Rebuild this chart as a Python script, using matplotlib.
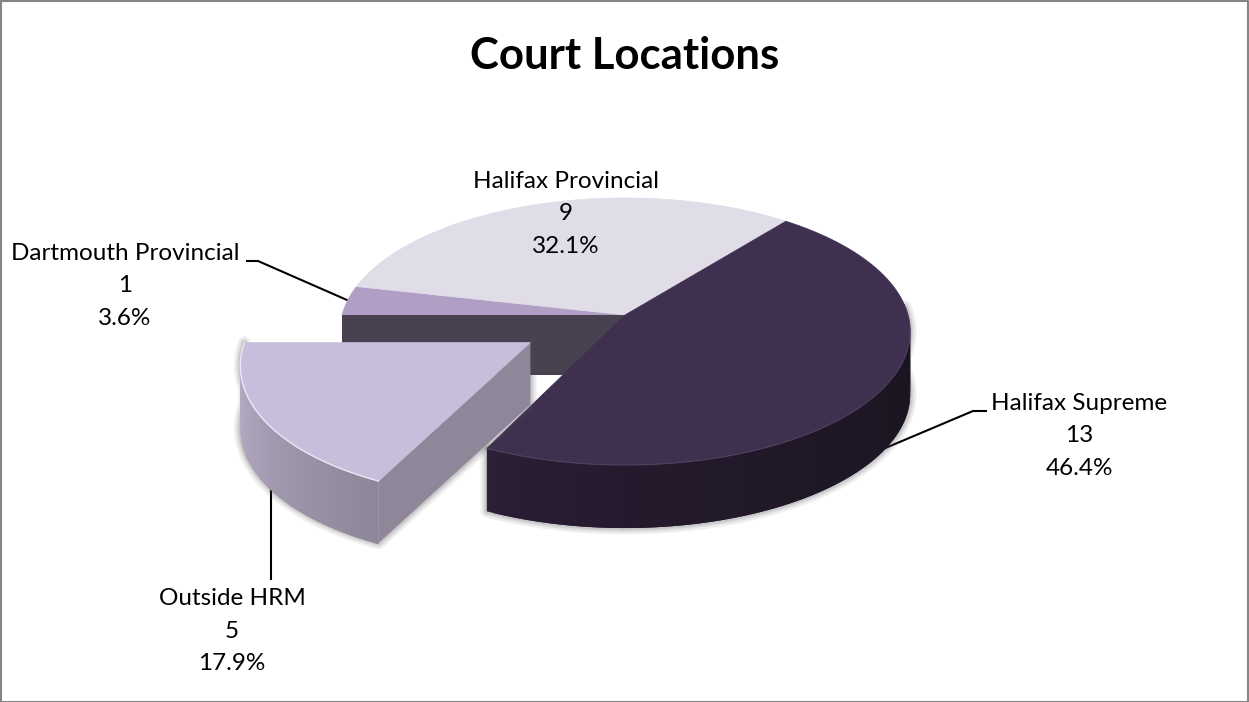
import numpy as np
import matplotlib
matplotlib.use("Agg")
import matplotlib.pyplot as plt
from matplotlib.colors import to_rgb

plt.rcParams['font.family'] = ['Lato', 'DejaVu Sans']

# chart data
names = ["Halifax Supreme", "Outside HRM", "Dartmouth Provincial", "Halifax Provincial"]
values = [13, 5, 1, 9]
title = "Court Locations"

# slice colours
top_colors = ["#403050", "#c8bedb", "#b09ec5", "#e0dce8"]

# pie geometry, in pixels of the 1249x702 picture
cx, cy = 625, 315
rx, ry = 283, 131.5
persp = 0.1236
depth = 63
start = 38.57
explode = 0.385
explode_r = 0.985

# label centre and leader line for every slice
label_pos = [(1079, 436), (232, 631), (125, 286), (566, 214)]
leaders = [[(986, 411), (973, 411), (876, 452)],
           [(271, 483), (271, 579)],
           [(247, 261), (258, 261), (347, 300)],
           None]


def project(theta, r, shift=0.0, mid=0.0, down=0.0):
    # theta runs clockwise from the back of the pie
    t = np.radians(theta)
    m = np.radians(mid)
    x = r * np.sin(t) + shift * np.sin(m)
    y = r * np.cos(t) + shift * np.cos(m)
    w = 1 + persp * y
    return cx + rx * x / w, cy - ry * y / w + down


def mix(a, b, f):
    a, b = np.array(to_rgb(a)), np.array(to_rgb(b))
    return tuple(a + (b - a) * f)


def slice_top(a0, a1, r=1.0, shift=0.0, mid=0.0):
    th = np.linspace(a0, a1, 120)
    ex, ey = project(th, r, shift, mid)
    ax_, ay_ = project(0.0, 0.0, shift, mid)
    return np.r_[ax_, ex], np.r_[ay_, ey]


def curved_wall(a0, a1, c0, c1, r=1.0, shift=0.0, mid=0.0, steps=90, power=1.0):
    # a0..a1 goes from one end of the wall to the other, strips overlap so no seams show
    th = np.linspace(a0, a1, steps + 1)
    for i in range(steps):
        tt = th[i:i + 3]
        x, y = project(tt, r, shift, mid)
        xs = np.r_[x, x[::-1]]
        ys = np.r_[y, y[::-1] + depth]
        c = mix(c0, c1, (i / (steps - 1)) ** power)
        ax.fill(xs, ys, color=c, lw=0, zorder=zbase)


def soft_shadow(xs, ys, zorder):
    for lw in [9, 6, 4, 2.5]:
        ax.fill(xs, ys, facecolor="none", edgecolor="#505050", alpha=0.09,
                lw=lw, joinstyle="round", zorder=zorder)


fig = plt.figure(figsize=(12.49, 7.02), dpi=100)
ax = fig.add_axes([0, 0, 1, 1])
ax.set_xlim(0, 1249)
ax.set_ylim(702, 0)
ax.axis("off")

total = sum(values)
angles = np.cumsum([0] + [v / total * 360 for v in values]) + start
sup0, sup1 = angles[0], angles[1]
out0, out1 = angles[1], angles[2]
dar0, dar1 = angles[2], angles[3]
pro0, pro1 = angles[3], angles[4]
out_mid = (out0 + out1) / 2

# leader lines sit behind the pie
for pts in leaders:
    if pts is not None:
        ax.plot(*zip(*pts), color="black", lw=1.5, zorder=1)

# back slices
zbase = 2
for a0, a1, col in [(dar0, dar1, top_colors[2]), (pro0, pro1, top_colors[3])]:
    xs, ys = slice_top(a0, a1)
    ax.fill(xs, ys, color=col, lw=0.5, zorder=2)

# inner wall left open by the pulled out slice
x0, y0 = project(0.0, 0.0)
x1, y1 = project(out1, 1.0)
ax.fill([x0, x1, x1, x0], [y0, y1, y1 + depth - 3, y0 + depth - 3], color="#484150", lw=0, zorder=3)

# halifax supreme
zbase = 5
th = np.linspace(sup0, sup1, 120)
ex, ey = project(th, 1.0)
mask = th >= 85
sx = np.r_[ex[mask], ex[mask][::-1]]
sy = np.r_[ey[mask], ey[mask][::-1] + depth]
soft_shadow(sx, sy, 4)
curved_wall(sup1, 85, "#2e1f38", "#19141f", power=0.55)
xs, ys = slice_top(sup0, sup1)
ax.fill(xs, ys, color=top_colors[0], lw=0.5, zorder=6)
ax.plot(ex[mask], ey[mask], color="#5b4a6b", lw=0.8, alpha=0.6, zorder=7)

# pulled out slice
zbase = 9
th = np.linspace(out0, out1, 120)
ex, ey = project(th, explode_r, explode, out_mid)
ax_, ay_ = project(0.0, 0.0, explode, out_mid)
sx = np.r_[ax_, ex, ex[::-1], ax_]
sy = np.r_[ay_, ey, ey[::-1] + depth - 1, ay_ + depth - 1]
soft_shadow(sx, sy, 8)
# cut face towards the dark slice
ax.fill([ax_, ex[0], ex[0], ax_], [ay_, ey[0], ey[0] + depth - 1, ay_ + depth - 1],
        color="#8f8699", lw=0, zorder=9.5)
curved_wall(out1, out0, "#bcb2cc", "#908699", explode_r, explode, out_mid)
xs, ys = slice_top(out0, out1, explode_r, explode, out_mid)
ax.fill(xs, ys, color=top_colors[1], lw=0.5, zorder=10)
ax.plot(ex, ey, color="#ece6f6", lw=1.0, zorder=11)

# title and data labels
ax.text(625, 56, title, fontsize=31.5, fontweight="bold", ha="center", va="center", color="black", zorder=20)
for name, val, pos in zip(names, values, label_pos):
    txt = "%s\n%d\n%.1f%%" % (name, val, val / total * 100)
    ax.text(pos[0], pos[1], txt, fontsize=17.5, ha="center", va="center", multialignment="center",
            linespacing=1.66, color="black", zorder=20)

# chart frame
ax.plot([0.5, 1248.5, 1248.5, 0.5, 0.5], [0.5, 0.5, 701.5, 701.5, 0.5], color="#868686", lw=1.5, zorder=30)

fig.savefig("out.png", dpi=100)
